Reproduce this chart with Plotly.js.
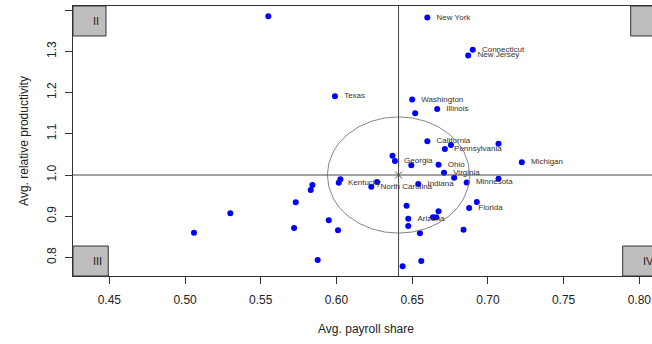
<!DOCTYPE html>
<html>
<head>
<meta charset="utf-8">
<script src="https://cdn.plot.ly/plotly-3.0.1.min.js"></script>
<style>
html,body{margin:0;padding:0;overflow:hidden;background:#fff;}
#chart{width:680px;height:344px;}
</style>
</head>
<body>
<div id="chart"></div>
<script>
// Data
const stateLabels = [
  "", "Texas", "New York", "Connecticut", "New Jersey", "Washington", "Illinois", "",
  "California", "", "Pennsylvania", "", "", "Georgia", "", "Ohio", "Virginia", "",
  "Minnesota", "", "Michigan", "Indiana", "North Carolina", "", "Kentucky", "",
  "", "Florida", "", "", "", "", "Arizona", "", "", "", "", "",
  "", "", "", "", "", "", "", "", ""
];
const payrollShare = [
  0.555, 0.599, 0.660, 0.690, 0.687, 0.650, 0.6665, 0.652,
  0.660, 0.6756, 0.6716, 0.707, 0.637, 0.6386, 0.6494, 0.6674, 0.671, 0.6777,
  0.686, 0.707, 0.7224, 0.654, 0.623, 0.6268, 0.6015, 0.6026,
  0.6927, 0.6876, 0.6463, 0.6674, 0.6637, 0.6659, 0.6474, 0.6474, 0.6551, 0.6839, 0.656, 0.6437,
  0.5059, 0.5299, 0.5731, 0.572, 0.5841, 0.583, 0.5949, 0.601, 0.5876
];
const relProductivity = [
  1.385, 1.191, 1.382, 1.304, 1.290, 1.183, 1.160, 1.150,
  1.082, 1.073, 1.063, 1.076, 1.047, 1.034, 1.0235, 1.025, 1.0056, 0.9935,
  0.982, 0.991, 1.031, 0.978, 0.9716, 0.983, 0.981, 0.9896,
  0.9345, 0.920, 0.9255, 0.912, 0.8974, 0.8974, 0.894, 0.8763, 0.859, 0.867, 0.7914, 0.7785,
  0.860, 0.907, 0.9337, 0.8714, 0.9757, 0.9636, 0.890, 0.8658, 0.7938
];
const meanPayroll = [0.641];
const meanProductivity = [1.0];
const circleRadius = {x: [0.047], y: [0.141]};
const xTicks = [0.45, 0.50, 0.55, 0.60, 0.65, 0.70, 0.75, 0.80];
const xTickText = ["0.45", "0.50", "0.55", "0.60", "0.65", "0.70", "0.75", "0.80"];
const yTicks = [0.8, 0.9, 1.0, 1.1, 1.2, 1.3, 1.4];
const yTickText = ["0.8", "0.9", "1.0", "1.1", "1.2", "1.3", "1.4"];
const quadrantLabels = ["II", "III", "IV"];

const FONT = "Liberation Sans, Arial, sans-serif";
const AX = "#333333";

const traces = [
  {
    type: "scatter",
    mode: "markers+text",
    x: payrollShare,
    y: relProductivity,
    text: stateLabels.map(s => s ? "\u00a0\u00a0" + s : ""),
    textposition: "middle right",
    textfont: {family: FONT, size: 8, color: "#333333"},
    marker: {color: "#0000FF", size: 6, line: {width: 0}},
    hoverinfo: "none",
    showlegend: false
  },
  {
    type: "scatter",
    mode: "markers",
    x: meanPayroll,
    y: meanProductivity,
    marker: {symbol: "x-thin-open", size: 7, color: "#555555", line: {width: 1, color: "#555555"}},
    hoverinfo: "none",
    showlegend: false
  }
];

const boxFill = "#BEBEBE";
const boxLine = {color: "#333333", width: 1};
const shapes = [
  {type: "line", xref: "x", yref: "paper", x0: meanPayroll[0], x1: meanPayroll[0], y0: 0, y1: 1, line: {color: "#444", width: 1}},
  {type: "line", xref: "paper", yref: "y", x0: 0, x1: 1, y0: meanProductivity[0], y1: meanProductivity[0], line: {color: "#444", width: 1}},
  {type: "circle", xref: "x", yref: "y",
   x0: meanPayroll[0] - circleRadius.x[0], x1: meanPayroll[0] + circleRadius.x[0],
   y0: meanProductivity[0] - circleRadius.y[0], y1: meanProductivity[0] + circleRadius.y[0],
   line: {color: "#666666", width: 0.8}},
  // quadrant label boxes
  {type: "rect", xref: "paper", yref: "paper", x0: 0.9517, x1: 1, y0: 0.889, y1: 1, fillcolor: boxFill, line: boxLine},
  {type: "rect", xref: "paper", yref: "paper", x0: 0, x1: 0.0563, y0: 0.889, y1: 1, fillcolor: boxFill, line: boxLine},
  {type: "rect", xref: "paper", yref: "paper", x0: 0, x1: 0.0602, y0: 0, y1: 0.111, fillcolor: boxFill, line: boxLine},
  {type: "rect", xref: "paper", yref: "paper", x0: 0.938, x1: 1, y0: 0, y1: 0.111, fillcolor: boxFill, line: boxLine}
];

const qFont = {family: FONT, size: 11, color: "#222"};
const annotations = [
  {xref: "paper", yref: "paper", x: 0.047, y: 0.944, xanchor: "right", yanchor: "middle", text: quadrantLabels[0], showarrow: false, font: qFont},
  {xref: "paper", yref: "paper", x: 0.053, y: 0.056, xanchor: "right", yanchor: "middle", text: quadrantLabels[1], showarrow: false, font: qFont},
  {xref: "paper", yref: "paper", x: 0.970, y: 0.056, xanchor: "left", yanchor: "middle", text: quadrantLabels[2], showarrow: false, font: qFont}
];

const layout = {
  width: 680,
  height: 344,
  margin: {l: 73, r: 21, t: 6, b: 68},
  paper_bgcolor: "#ffffff",
  plot_bgcolor: "#ffffff",
  font: {family: FONT, color: "#222"},
  xaxis: {
    range: [0.426, 0.813],
    tickvals: xTicks,
    ticktext: xTickText,
    ticks: "outside",
    ticklen: 7,
    tickcolor: AX,
    ticklabelstandoff: 6,
    tickfont: {family: FONT, size: 12, color: "#222"},
    showline: true,
    mirror: true,
    linecolor: AX,
    linewidth: 1,
    showgrid: false,
    zeroline: false,
    title: {text: "Avg. payroll share", font: {family: FONT, size: 12, color: "#222"}, standoff: 18}
  },
  yaxis: {
    range: [0.755, 1.41],
    tickvals: yTicks,
    ticktext: yTickText,
    ticks: "outside",
    ticklen: 7,
    tickcolor: AX,
    tickangle: -90,
    ticklabelstandoff: 4,
    tickfont: {family: FONT, size: 12, color: "#222"},
    showline: true,
    mirror: true,
    linecolor: AX,
    linewidth: 1,
    showgrid: false,
    zeroline: false,
    title: {text: "Avg. relative productivity", font: {family: FONT, size: 12, color: "#222"}, standoff: 14}
  },
  shapes: shapes,
  annotations: annotations
};

Plotly.newPlot("chart", traces, layout, {displayModeBar: false, staticPlot: true});
</script>
</body>
</html>
